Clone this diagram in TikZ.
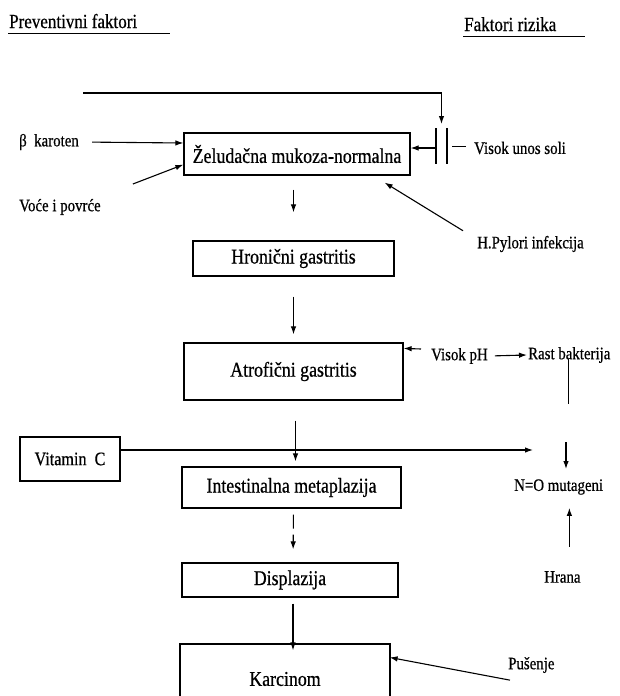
\documentclass[tikz,border=0pt]{standalone}
\usepackage{fontspec}
\setmainfont{Liberation Serif}[FakeStretch=0.85, FakeBold=0.6]
\usepackage{tikz}
\usetikzlibrary{positioning,arrows.meta}
\tikzstyle{korak} = [draw=black, line width=1.2pt,
                     rectangle, inner sep=0pt,
                     font=\fontsize{21}{24}\selectfont]
\tikzstyle{tekst} = [inner sep=1pt, font=\fontsize{17.5}{20}\selectfont]
\tikzstyle{naslov} = [inner sep=1pt, font=\fontsize{20}{24}\selectfont]
\tikzstyle{strelica} = [-{Latex[length=8pt,width=5.5pt]}, line width=1.1pt]

\begin{document}
\begin{tikzpicture}[x=1pt, y=-1pt]%
  \clip (0,0) rectangle (619,696);
  % naslovi
  \node[naslov, anchor=base west] (prev) at (8,28) {Preventivni faktori};
  \draw[line width=0.9pt] ([yshift=-5pt]prev.base west) -- ++(162,0);
  \node[naslov, anchor=base west] (riz) at (463,31) {Faktori rizika};
  \draw[line width=0.9pt] ([yshift=-5pt]riz.base west) -- ++(122,0);
  % glavni niz
  \node[korak, minimum width=226, minimum height=42] (zel) at (297,154) {Želudačna mukoza-normalna};
  \node[korak, minimum width=201, minimum height=35] (hron) at (293.5,258.5) {Hronični gastritis};
  \node[korak, minimum width=219, minimum height=57] (atr) at (293.5,371.5) {Atrofični gastritis};
  \node[korak, minimum width=219, minimum height=41] (intes) at (291.5,487.5) {Intestinalna metaplazija};
  \node[korak, minimum width=216, minimum height=34] (displ) at (290,580) {Displazija};
  \node[korak, minimum width=210, minimum height=70] (karc) at (285,679) {Karcinom};
  \draw[strelica, shorten <=14pt, shorten >=28pt] (zel.south -| hron.north) -- (hron.north);
  \draw[strelica, shorten <=20pt, shorten >=8pt] (hron.south) -- (atr.north);
  \draw[strelica, shorten <=20pt, shorten >=5pt] ([xshift=2pt]atr.south) -- ([xshift=4pt]intes.north);
  \draw[strelica, dash pattern=on 14pt off 6pt, shorten <=6pt, shorten >=13pt] ([xshift=2pt]intes.south) -- ([xshift=3pt]displ.north);
  \draw[strelica, shorten <=6pt, shorten >=-7pt] ([xshift=3pt]displ.south) -- ([xshift=8pt]karc.north);
  % preventivni faktori
  \node[tekst, anchor=west] (beta) at (18,142) {β~ karoten};
  \draw[strelica, shorten <=12pt] (beta.east) -- ([yshift=11pt]zel.west);
  \node[tekst, anchor=west] (voce) at (18,207) {Voće i povrće};
  \draw[strelica] ([shift={(31pt,23pt)}]voce.east) -- ([yshift=11pt]zel.south west);
  \node[korak, minimum width=100, minimum height=44, font=\fontsize{19}{22}\selectfont] (vitc) at (70,459) {Vitamin~~C};
  \coordinate (nitro) at (533,450);
  \draw[strelica] ([yshift=9pt]vitc.east) -- (nitro);
  % faktori rizika
  \coordinate (zap) at (441.5,146);
  \coordinate (vrh) at (83,93);
  \draw[strelica] (vrh) -| ([yshift=22pt]zap);
  \draw[line width=1.1pt] ([shift={(-5.5pt,18pt)}]zap) -- ++(0,36)
                          ([shift={(5.5pt,18pt)}]zap) -- ++(0,36);
  \draw[strelica] ([shift={(-5.5pt,-2pt)}]zap) -- ([yshift=6pt]zel.east);
  \node[tekst, anchor=west] (sol) at (473,148) {Visok unos soli};
  \draw[line width=0.9pt] ([shift={(-21pt,2pt)}]sol.west) -- ([shift={(-7pt,2pt)}]sol.west);
  \node[tekst, anchor=west] (hp) at (476,244) {H.Pylori infekcija};
  \draw[strelica] ([shift={(-13pt,4pt)}]hp.north west) -- ([shift={(-26pt,-7pt)}]zel.south east);
  \node[tekst, anchor=west] (ph) at (430,356) {Visok pH};
  \draw[strelica] ([shift={(-9pt,7pt)}]ph.west) -- ([yshift=-6pt]atr.north east);
  \node[tekst, anchor=west] (rast) at (527,355) {Rast bakterija};
  \draw[strelica, shorten <=6pt] (ph.east) -- (rast.west);
  \draw[line width=0.9pt] ([shift={(41pt,-4pt)}]rast.west) -- ++(0,45);
  \node[tekst, anchor=west] (no) at (513,487) {N=O mutageni};
  \coordinate (dolje) at (566,442);
  \draw[strelica] (dolje) -- ([yshift=-27pt]dolje);
  \node[tekst, anchor=west] (hrana) at (543,577) {Hrana};
  \draw[strelica, shorten <=23pt, shorten >=12pt] ([xshift=7pt]hrana.north) -- ([xshift=7pt]hrana.north |- no.south);
  \node[tekst, anchor=west] (pus) at (507,665) {Pušenje};
  \draw[strelica] ([shift={(3pt,-6pt)}]pus.south west) -- ([shift={(-1pt,-14pt)}]karc.north east);
\end{tikzpicture}
\end{document}
